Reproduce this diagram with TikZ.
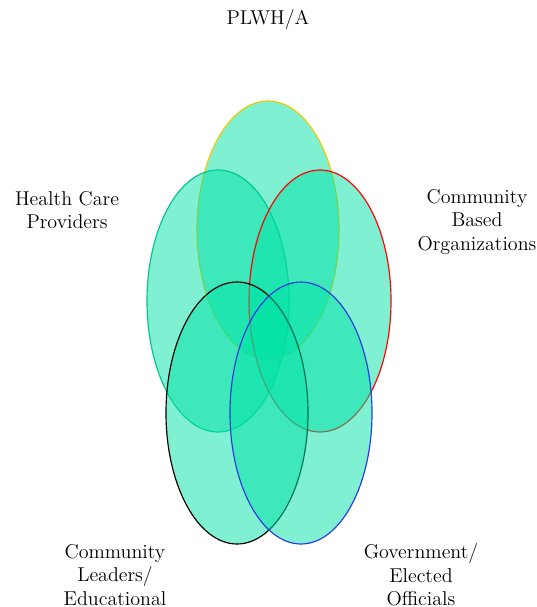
\documentclass[tikz,border=0pt]{standalone}
\usepackage{xcolor}
\usepackage{tikz}
\definecolor{vennfill}{RGB}{0,225,165}
\definecolor{plwhline}{RGB}{240,200,0}
\definecolor{hcpline}{RGB}{0,200,140}
\definecolor{govline}{RGB}{40,60,220}
\tikzset{petal/.style={fill=vennfill,fill opacity=0.5,line width=0.7pt},
	lbl/.style={align=center,font=\large}}

\begin{document}
\begin{tikzpicture}[x=0.6pt,y=-0.6pt]
	\useasboundingbox (0,0) rectangle (536,607);
	\draw[petal,draw=plwhline] (268,230) ellipse (42.6pt and 77.4pt);
	\draw[petal,draw=hcpline] (218,301) ellipse (42.6pt and 78.6pt);
	\draw[petal,draw=red] (320,301) ellipse (42.6pt and 78.6pt);
	\draw[petal,draw=black] (237,413) ellipse (42.6pt and 78.6pt);
	\draw[petal,draw=govline] (301,413) ellipse (42.6pt and 78.6pt);
	\node[lbl] (plwh) at (268,20) {PLWH/A};
	\node[lbl] (hcp) at (67,210) {Health Care\\Providers};
	\node[lbl] (cbo) at (477,222) {Community\\Based\\Organizations};
	\node[lbl] (cle) at (115,575) {Community\\Leaders/\\Educational};
	\node[lbl] (geo) at (421,575) {Government/\\Elected\\Officials};
\end{tikzpicture}
\end{document}
